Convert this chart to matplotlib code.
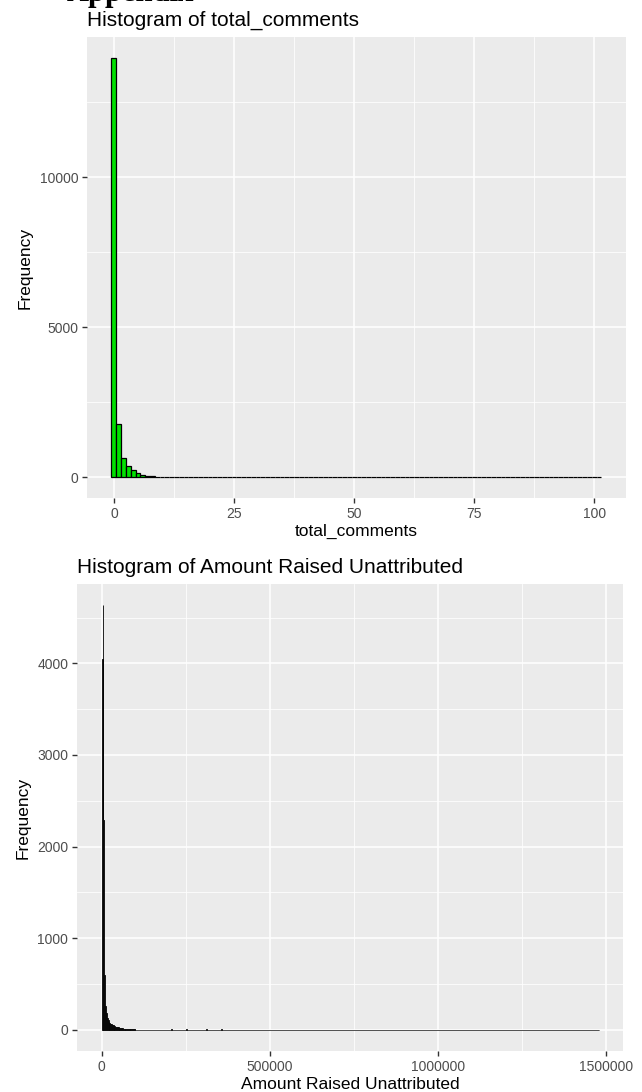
import numpy as np
import matplotlib.pyplot as plt
from matplotlib.ticker import MultipleLocator, FormatStrFormatter

plt.rcParams['font.family'] = ['Liberation Sans', 'DejaVu Sans']

# total_comments histogram, one bin per integer value
comment_counts = [13980, 1770, 640, 370, 240, 135, 75, 45, 28, 18, 12, 8, 6, 4, 3, 2, 2, 1, 1, 1]
comment_tail_bins = [22, 25, 31, 38, 47, 56, 68, 83, 101]
comment_tail_counts = [1, 1, 1, 1, 1, 1, 1, 1, 1]
comment_max = 101

# amount raised unattributed, bins of 2500
amount_binwidth = 2500
amount_counts = [4050, 4635, 2290, 600, 260, 180, 130, 105, 88, 75,
                 66, 58, 52, 47, 42, 38, 35, 32, 30, 27,
                 24, 21, 19, 17, 15, 13, 11, 10, 9, 8,
                 7, 6, 6, 5, 5, 4, 4, 3, 3, 3,
                 2, 2, 2, 2, 2, 1, 1, 1, 1, 1]
amount_tail_values = [205000, 228000, 250000, 270000, 290000, 310000, 330000, 355000,
                      390000, 415000, 507000, 585000, 648000, 732000, 815000, 1475000]
amount_tail_counts = [3, 2, 3, 2, 2, 3, 2, 3, 2, 2, 2, 1, 2, 2, 2, 1]
amount_max = 1476000

BG = '#EBEBEB'
TICK_TXT = '#4D4D4D'


def gg_axes(ax):
    ax.set_facecolor(BG)
    for s in ax.spines.values():
        s.set_visible(False)
    ax.grid(True, which='major', color='white', lw=1.1)
    ax.grid(True, which='minor', color='white', lw=0.55)
    ax.set_axisbelow(True)
    ax.tick_params(which='major', length=3.8, width=1.0, color='#333333',
                   labelcolor=TICK_TXT, labelsize=10, pad=2.5)
    ax.tick_params(which='minor', length=0)


fig = plt.figure(figsize=(6.42, 10.92), dpi=100)
W, H = 642, 1092

# section heading running off the top of the page
fig.text(67 / W, 1 - 1 / H, 'Appendix', family='Liberation Serif',
         weight='bold', size=22, va='baseline')

# --- total_comments ---
ax1 = fig.add_axes([87 / W, 1 - 498 / H, (626 - 87) / W, (498 - 37) / H])
gg_axes(ax1)
c = np.zeros(comment_max + 1)
c[:len(comment_counts)] = comment_counts
c[comment_tail_bins] = comment_tail_counts
centers = np.arange(comment_max + 1)
ax1.bar(centers, c, width=1, color='#00E000', edgecolor='black', lw=0.9)
xlo, xhi = -0.5, comment_max + 0.5
pad = 0.05 * (xhi - xlo)
ax1.set_xlim(xlo - pad, xhi + pad)
ax1.set_ylim(-0.05 * c.max(), 1.05 * c.max())
ax1.xaxis.set_major_locator(MultipleLocator(25))
ax1.xaxis.set_minor_locator(MultipleLocator(12.5))
ax1.yaxis.set_major_locator(MultipleLocator(5000))
ax1.yaxis.set_minor_locator(MultipleLocator(2500))
ax1.set_xlabel('total_comments', fontsize=12.5, labelpad=2)
ax1.set_ylabel('Frequency', fontsize=12.5, labelpad=5)
ax1.set_title('Histogram of total_comments', loc='left', fontsize=15, pad=8)

# --- Amount Raised Unattributed ---
ax2 = fig.add_axes([77 / W, 1 - 1051 / H, (623 - 77) / W, (1051 - 584) / H])
gg_axes(ax2)
nbins = int(np.ceil(amount_max / amount_binwidth))
a = np.zeros(nbins)
a[:len(amount_counts)] = amount_counts
idx = np.array(amount_tail_values) // amount_binwidth
a[np.minimum(idx, nbins - 1)] = amount_tail_counts
left = np.arange(nbins) * amount_binwidth
ax2.bar(left, a, width=amount_binwidth, align='edge', color='#595959',
        edgecolor='black', lw=0.6)
pad = 0.05 * amount_max
ax2.set_xlim(-pad, amount_max + pad)
ax2.set_ylim(-0.05 * a.max(), 1.05 * a.max())
ax2.xaxis.set_major_locator(MultipleLocator(500000))
ax2.xaxis.set_minor_locator(MultipleLocator(250000))
ax2.xaxis.set_major_formatter(FormatStrFormatter('%d'))
ax2.yaxis.set_major_locator(MultipleLocator(1000))
ax2.yaxis.set_minor_locator(MultipleLocator(500))
ax2.set_xlabel('Amount Raised Unattributed', fontsize=12.5, labelpad=2)
ax2.set_ylabel('Frequency', fontsize=12.5, labelpad=5)
ax2.set_title('Histogram of Amount Raised Unattributed', loc='left', fontsize=15, pad=8)

fig.savefig('out.png', dpi=100)
